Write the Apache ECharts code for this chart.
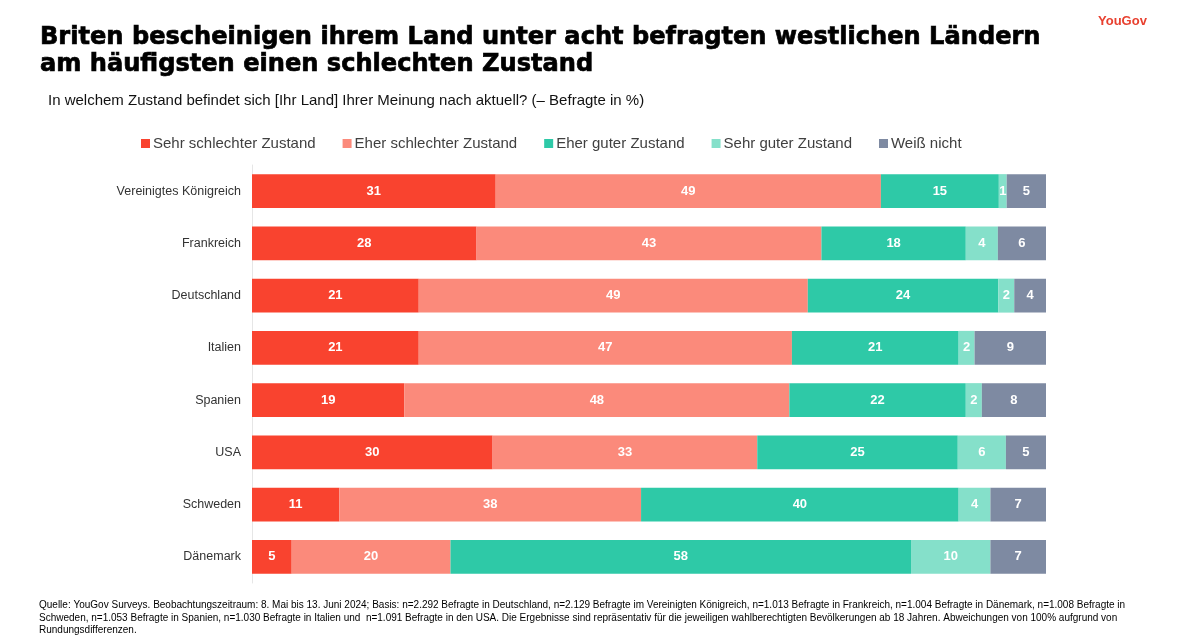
<!DOCTYPE html>
<html><head><meta charset="utf-8">
<script src="https://cdn.jsdelivr.net/npm/echarts@6/dist/echarts.min.js"></script>
<style>html,body{margin:0;padding:0;background:#fff}#c{width:1200px;height:636px}</style>
</head><body><div id="c"></div>
<script>
const categories = ["Vereinigtes Königreich","Frankreich","Deutschland","Italien","Spanien","USA","Schweden","Dänemark"];
const seriesNames = ["Sehr schlechter Zustand","Eher schlechter Zustand","Eher guter Zustand","Sehr guter Zustand","Weiß nicht"];
const sehrSchlecht = [31,28,21,21,19,30,11,5];
const eherSchlecht = [49,43,49,47,48,33,38,20];
const eherGut      = [15,18,24,21,22,25,40,58];
const sehrGut      = [1,4,2,2,2,6,4,10];
const weissNicht   = [5,6,4,9,8,5,7,7];
const colors = ["#F9432F","#FB8A7B","#2EC9A7","#85E0CA","#7E8AA2"];

const FONT = 'Liberation Sans, Arial, sans-serif';
const raw = [sehrSchlecht, eherSchlecht, eherGut, sehrGut, weissNicht];
const totals = categories.map((_, i) => raw.reduce((s, a) => s + a[i], 0));

const series = raw.map((arr, k) => ({
  name: seriesNames[k],
  type: 'bar',
  stack: 'all',
  barWidth: '65%',
  itemStyle: { color: colors[k] },
  label: {
    show: true, position: 'inside', color: '#fff', fontWeight: 'bold',
    fontSize: 13, fontFamily: FONT,
    formatter: p => String(arr[p.dataIndex])
  },
  emphasis: { disabled: true },
  data: arr.map((v, i) => v / totals[i] * 100)
}));

const chart = echarts.init(document.getElementById('c'));
chart.setOption({
  animation: false,
  textStyle: { fontFamily: FONT },
  title: [
    { text: 'Briten bescheinigen ihrem Land unter acht befragten westlichen Ländern\nam häufigsten einen schlechten Zustand',
      left: 35, top: 19,
      textStyle: { fontSize: 24.1, fontWeight: 'bold', color: '#000', lineHeight: 27, fontFamily: 'DejaVu Sans',
                   textBorderColor: '#000', textBorderWidth: 0.7 } },
    { text: 'In welchem Zustand befindet sich [Ihr Land] Ihrer Meinung nach aktuell? (– Befragte in %)',
      left: 43, top: 88,
      textStyle: { fontSize: 15, fontWeight: 'normal', color: '#111', fontFamily: FONT } },
    { text: 'YouGov', left: 1093, top: 10,
      textStyle: { fontSize: 13, fontWeight: 'bold', color: '#E8402F', fontFamily: FONT } },
    { text: 'Quelle: YouGov Surveys. Beobachtungszeitraum: 8. Mai bis 13. Juni 2024; Basis: n=2.292 Befragte in Deutschland, n=2.129 Befragte im Vereinigten Königreich, n=1.013 Befragte in Frankreich, n=1.004 Befragte in Dänemark, n=1.008 Befragte in\nSchweden, n=1.053 Befragte in Spanien, n=1.030 Befragte in Italien und  n=1.091 Befragte in den USA. Die Ergebnisse sind repräsentativ für die jeweiligen wahlberechtigten Bevölkerungen ab 18 Jahren. Abweichungen von 100% aufgrund von\nRundungsdifferenzen.',
      left: 34, top: 594,
      textStyle: { fontSize: 10, fontWeight: 'normal', color: '#000', lineHeight: 12.5, fontFamily: FONT } }
  ],
  legend: {
    top: 131, left: 136,
    itemWidth: 9, itemHeight: 9, itemGap: 27,
    icon: 'rect',
    textStyle: { fontSize: 15, color: '#404040', padding: [0,0,0,-2] },
    data: seriesNames
  },
  grid: { left: 252, right: 154, top: 165, bottom: 53 },
  xAxis: { type: 'value', min: 0, max: 100, show: false },
  yAxis: {
    type: 'category', data: categories, inverse: true,
    axisLine: { show: true, lineStyle: { color: '#E6E6E6' } },
    axisTick: { show: false },
    axisLabel: { fontSize: 12.5, color: '#333', margin: 11 }
  },
  series: series
});
</script></body></html>
